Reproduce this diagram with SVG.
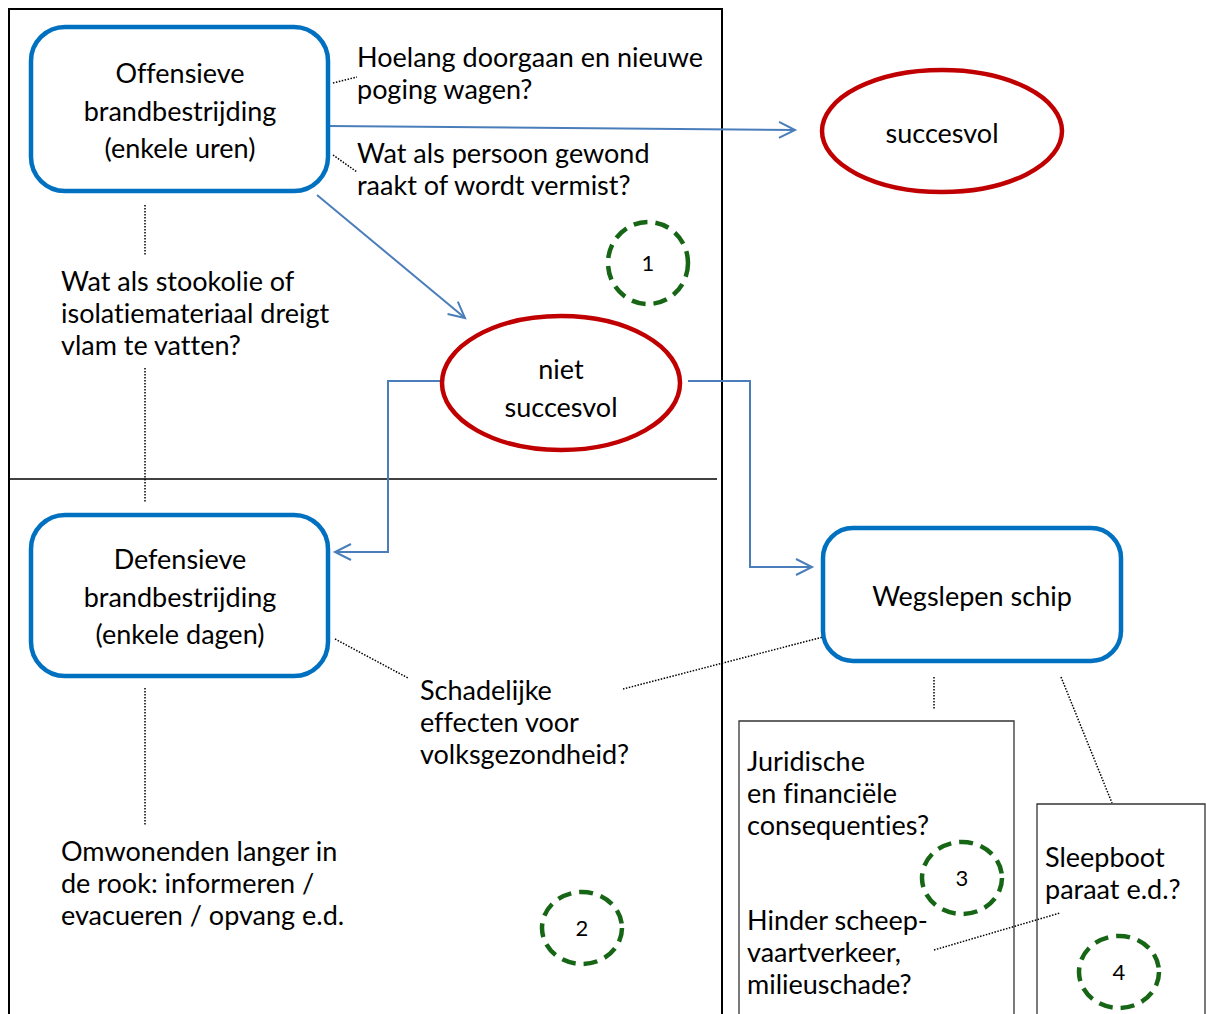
<svg xmlns="http://www.w3.org/2000/svg" width="1206" height="1014" viewBox="0 0 1206 1014">
<style>
text{font-family:Lato,"Open Sans","Liberation Sans",sans-serif;font-size:27px;fill:#000;font-variant-ligatures:none}
.c{text-anchor:middle}
.n{font-size:22px;text-anchor:middle}
.box{fill:#fff;stroke:#0070C0;stroke-width:4.5}
.ell{fill:#fff;stroke:#C00000;stroke-width:4.5}
.num{fill:none;stroke:#166616;stroke-width:4.5;stroke-dasharray:14 8}
.frame{fill:none;stroke:#000;stroke-width:2}
.thin{fill:#fff;stroke:#333;stroke-width:1.3}
.con{fill:none;stroke:#4A7EBB;stroke-width:2}
.dot{fill:none;stroke:#000;stroke-width:1.5;stroke-dasharray:1.5 1.5}
</style>
<defs>
<marker id="arr" markerWidth="24" markerHeight="24" refX="20" refY="12" orient="auto" markerUnits="userSpaceOnUse">
<path d="M4,4 L20,12 L4,20" fill="none" stroke="#4A7EBB" stroke-width="2"/>
</marker>
</defs>
<rect x="0" y="0" width="1206" height="1014" fill="#fff"/>
<g id="frame">
<path class="frame" d="M9,1014 V9 H722 V1014"/>
<line x1="9" y1="479" x2="717" y2="479" stroke="#000" stroke-width="1.3"/>
</g>
<g id="textboxes">
<path class="thin" d="M739,1014 V721 H1014 V1014"/>
<path class="thin" d="M1037,1014 V804 H1205 V1014"/>
</g>
<g id="connectors">
<line class="con" x1="328" y1="126" x2="795" y2="130" marker-end="url(#arr)"/>
<line class="con" x1="317" y1="195" x2="465" y2="318" marker-end="url(#arr)"/>
<polyline class="con" points="442,381 388,381 388,552 335,552" marker-end="url(#arr)"/>
<polyline class="con" points="688,381 750,381 750,567 812,567" marker-end="url(#arr)"/>
<line class="dot" x1="333" y1="83" x2="357" y2="77"/>
<line class="dot" x1="333" y1="155" x2="357" y2="172"/>
<line class="dot" x1="145" y1="205" x2="145" y2="255"/>
<line class="dot" x1="145" y1="368" x2="145" y2="503"/>
<line class="dot" x1="335" y1="639" x2="408" y2="678"/>
<line class="dot" x1="623" y1="689" x2="823" y2="637"/>
<line class="dot" x1="145" y1="688" x2="145" y2="825"/>
<line class="dot" x1="934" y1="677" x2="934" y2="710"/>
<line class="dot" x1="1061" y1="677" x2="1112" y2="803"/>
<line class="dot" x1="934" y1="950" x2="1060" y2="913" stroke-width="1"/>
</g>
<g id="offensief">
<rect class="box" x="31" y="27" width="297" height="164" rx="34"/>
<text class="c" x="180" y="83">Offensieve</text>
<text class="c" x="180" y="121">brandbestrijding</text>
<text class="c" x="180" y="158">(enkele uren)</text>
</g>
<g id="defensief">
<rect class="box" x="31" y="515" width="297" height="161" rx="34"/>
<text class="c" x="180" y="569">Defensieve</text>
<text class="c" x="180" y="607">brandbestrijding</text>
<text class="c" x="180" y="644">(enkele dagen)</text>
</g>
<g id="wegslepen">
<rect class="box" x="823" y="528" width="298" height="133" rx="30"/>
<text class="c" x="972" y="606">Wegslepen schip</text>
</g>
<g id="succesvol">
<ellipse class="ell" cx="942" cy="131" rx="120" ry="61"/>
<text class="c" x="942" y="143">succesvol</text>
</g>
<g id="nietsuccesvol">
<ellipse class="ell" cx="561" cy="383" rx="119" ry="67"/>
<text class="c" x="561" y="379">niet</text>
<text class="c" x="561" y="417">succesvol</text>
</g>
<g id="labels">
<text x="357" y="67">Hoelang doorgaan en nieuwe</text>
<text x="357" y="99">poging wagen?</text>
<text x="357" y="163">Wat als persoon gewond</text>
<text x="357" y="195">raakt of wordt vermist?</text>
<text x="61" y="291">Wat als stookolie of</text>
<text x="61" y="323">isolatiemateriaal dreigt</text>
<text x="61" y="355">vlam te vatten?</text>
<text x="420" y="700">Schadelijke</text>
<text x="420" y="732">effecten voor</text>
<text x="420" y="764">volksgezondheid?</text>
<text x="61" y="861">Omwonenden langer in</text>
<text x="61" y="893">de rook: informeren /</text>
<text x="61" y="925">evacueren / opvang e.d.</text>
<text x="747" y="771">Juridische</text>
<text x="747" y="803">en financiële</text>
<text x="747" y="835">consequenties?</text>
<text x="747" y="930">Hinder scheep-</text>
<text x="747" y="962">vaartverkeer,</text>
<text x="747" y="994">milieuschade?</text>
<text x="1045" y="867">Sleepboot</text>
<text x="1045" y="899">paraat e.d.?</text>
</g>
<g id="num1"><ellipse class="num" cx="648" cy="263" rx="40" ry="41"/><text class="n" x="648" y="271">1</text></g>
<g id="num2"><ellipse class="num" cx="582" cy="928" rx="40" ry="36"/><text class="n" x="582" y="936">2</text></g>
<g id="num3"><ellipse class="num" cx="962" cy="878" rx="40" ry="36"/><text class="n" x="962" y="886">3</text></g>
<g id="num4"><ellipse class="num" cx="1119" cy="972" rx="40" ry="36"/><text class="n" x="1119" y="980">4</text></g>
</svg>
